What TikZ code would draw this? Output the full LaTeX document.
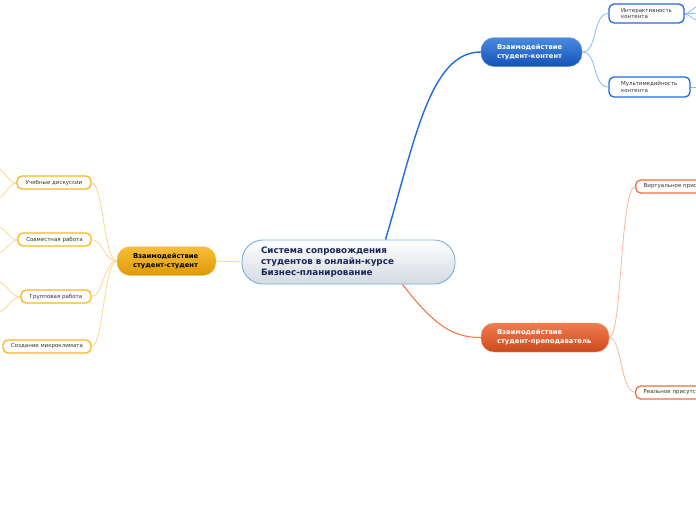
\documentclass[tikz,border=0pt]{standalone}
\usepackage{fontspec}
\setmainfont{DejaVu Sans}
\usetikzlibrary{positioning,calc}
\definecolor{rootline}{HTML}{7AB0E0}
\definecolor{rootink}{HTML}{1A2755}
\definecolor{rootlow}{HTML}{D3DAE1}
\definecolor{blueline}{HTML}{1E6BE0}
\definecolor{bluetop}{HTML}{4A8AE0}
\definecolor{bluelow}{HTML}{1452B8}
\definecolor{bluefan}{HTML}{8FB8F0}
\definecolor{orangeline}{HTML}{F0703C}
\definecolor{orangetop}{HTML}{F07C50}
\definecolor{orangelow}{HTML}{CC4A1C}
\definecolor{orangefan}{HTML}{F8B8A0}
\definecolor{goldline}{HTML}{F6B820}
\definecolor{goldtop}{HTML}{F7BE3A}
\definecolor{goldlow}{HTML}{DE9A06}
\definecolor{goldfan}{HTML}{FCD98C}

\begin{document}
\begin{tikzpicture}[x=1pt, y=-1pt,
  rootv/.style={draw=rootline, line width=0.9pt, rounded corners=21pt, top color=white, bottom color=rootlow,
    minimum height=44pt, text width=175pt, inner xsep=19pt, align=left, text=rootink,
    font={\fontsize{8.8}{11}\selectfont\bfseries}},
  mainv/.style={rounded corners=13pt, minimum height=29pt, inner xsep=16pt, align=left,
    font={\fontsize{6.8}{9}\selectfont\bfseries}},
  leafv/.style={draw, fill=white, line width=1.3pt, rounded corners=5pt, inner xsep=0pt, inner ysep=1pt,
    font={\fontsize{5.5}{6.5}\selectfont}, text=black!80},
  bluebr/.style={line width=1.4pt, draw=blueline},
  fanb/.style={line width=0.8pt, draw=bluefan},
  fano/.style={line width=0.8pt, draw=orangefan},
  fang/.style={line width=0.8pt, draw=goldfan}
]
\useasboundingbox (0,0) rectangle (696,520);
\clip (0,0) rectangle (696,520);
\fill[white] (0,0) rectangle (696,520);

\coordinate (ga1) at (-4,168);
\coordinate (gb1) at (-4,199);
\coordinate (ga2) at (-4,226);
\coordinate (gb2) at (-4,254);
\coordinate (ga3) at (-4,281);
\coordinate (gb3) at (-4,313);
\coordinate (bo1) at (700,6);
\coordinate (bo2) at (700,13);
\coordinate (bo3) at (700,21);
\coordinate (bo4) at (700,87);

\draw[fang] (17,183) .. controls (8,183) and (6,170) .. (ga1);
\draw[fang] (17,183) .. controls (8,183) and (6,197) .. (gb1);
\draw[fang] (18,240) .. controls (9,240) and (7,228) .. (ga2);
\draw[fang] (18,240) .. controls (9,240) and (7,252) .. (gb2);
\draw[fang] (21,297) .. controls (10,297) and (8,283) .. (ga3);
\draw[fang] (21,297) .. controls (10,297) and (8,311) .. (gb3);
\draw[fanb] (684,14) .. controls (690,14) and (692,7) .. (bo1);
\draw[fanb] (684,14) -- (bo2);
\draw[fanb] (684,14) .. controls (690,14) and (692,20) .. (bo3);
\draw[fanb] (690,87) -- (bo4);

\node[rootv] (c) at (348.5,262) {Система сопровождения\\студентов в онлайн-курсе\\Бизнес-планирование};

\node[mainv, text width=69pt, draw=bluetop!80, top color=bluetop, bottom color=bluelow, text=white] (b) at (531.5,52) {Взаимодействие\\студент-контент};
\node[mainv, text width=96pt, draw=orangetop!80, top color=orangetop, bottom color=orangelow, text=white] (o) at (545,337.5) {Взаимодействие\\студент-преподаватель};
\node[mainv, text width=67pt, draw=goldtop!70, top color=goldtop, bottom color=goldlow, text=black] (s) at (166.5,261) {Взаимодействие\\студент-студент};

\node[leafv, draw=blueline, minimum width=75pt, minimum height=19pt, align=left, text width=51pt, inner xsep=12pt] (b1) at (646.5,13.5) {Интерактивность\\контента};
\node[leafv, draw=blueline, minimum width=81pt, minimum height=20pt, align=left, text width=57pt, inner xsep=12pt] (b2) at (649.5,87) {Мультимедийность\\контента};

\node[leafv, draw=orangeline, minimum height=13pt, anchor=west, inner xsep=8pt] (o1) at (635,186.5) {Виртуальное присутствие};
\node[leafv, draw=orangeline, minimum height=13pt, anchor=west, inner xsep=8pt] (o2) at (635,392.5) {Реальное присутствие};

\node[leafv, draw=goldline, minimum width=74pt, minimum height=13pt] (g1) at (54,182.5) {Учебные дискуссии};
\node[leafv, draw=goldline, minimum width=73pt, minimum height=13pt] (g2) at (54.5,239.5) {Совместная работа};
\node[leafv, draw=goldline, minimum width=70pt, minimum height=13pt] (g3) at (56,296.5) {Групповая работа};
\node[leafv, draw=goldline, minimum width=88pt, minimum height=13pt] (g4) at (47,346.5) {Создание микроклимата};

\draw[bluebr] ($(c.north)+(37,0)$) .. controls (415,140) and (430,52) .. (b.west);
\draw[line width=1pt, draw=orangeline] ($(c.south)+(54,0)$) .. controls (430,320) and (450,338) .. (o.west);
\draw[line width=0.9pt, draw=goldfan] (c.west) -- (s.east);

\draw[fanb] (b.east) .. controls (598,52) and (592,14) .. (b1.west);
\draw[fanb] (b.east) .. controls (598,52) and (592,87) .. (b2.west);
\draw[fano] (o.east) .. controls (622,338) and (620,190) .. (o1.west);
\draw[fano] (o.east) .. controls (622,338) and (620,390) .. (o2.west);
\draw[fang] (s.west) .. controls (104,261) and (103,183) .. (g1.east);
\draw[fang] (s.west) .. controls (104,261) and (103,240) .. (g2.east);
\draw[fang] (s.west) .. controls (104,261) and (103,297) .. (g3.east);
\draw[fang] (s.west) .. controls (104,261) and (103,347) .. (g4.east);
\end{tikzpicture}
\end{document}
